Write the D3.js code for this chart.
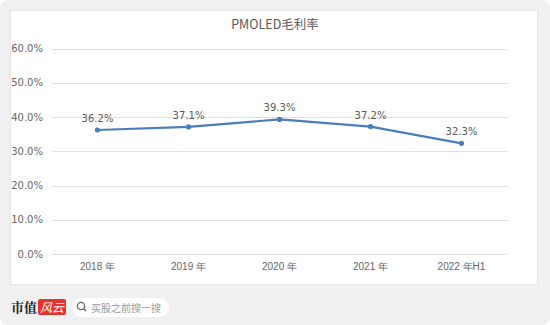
<!DOCTYPE html>
<html><head><meta charset="utf-8">
<script src="https://cdn.jsdelivr.net/npm/d3@7/dist/d3.min.js"></script>
<style>
html,body{margin:0;padding:0;background:#fff;}
svg{display:block;font-family:"Microsoft YaHei","Noto Sans CJK SC","DejaVu Sans",sans-serif;}
</style></head>
<body>
<script>
// Chart data
const categories = ["2018 年", "2019 年", "2020 年", "2021 年", "2022 年H1"];
const margins = [36.2, 37.1, 39.3, 37.2, 32.3];
const yTicks = [0, 10, 20, 30, 40, 50, 60];
const title = "PMOLED毛利率";

const W = 550, H = 325;
const svg = d3.select("body").append("svg").attr("width", W).attr("height", H);

// outer card
svg.append("rect").attr("x", 0).attr("y", 0).attr("width", W).attr("height", H)
  .attr("rx", 8).attr("fill", "#f0f0f0");

// white chart area
svg.append("rect").attr("x", 10.5).attr("y", 10.5).attr("width", 527).attr("height", 274)
  .attr("fill", "#fff").attr("stroke", "#e6e6e6");

const x = d3.scaleBand().domain(categories).range([52, 507]);
const y = d3.scaleLinear().domain([0, 60]).range([254, 48.5]);

// gridlines
svg.append("g").selectAll("line").data(yTicks).join("line")
  .attr("x1", 52).attr("x2", 507)
  .attr("y1", d => Math.round(y(d)) + 0.5).attr("y2", d => Math.round(y(d)) + 0.5)
  .attr("stroke", "#e0e0e0").attr("stroke-width", 1);

// y axis labels
const yAxis = d3.axisLeft(y).tickValues(yTicks).tickSize(0).tickPadding(0)
  .tickFormat(d => d.toFixed(1) + "%");
const gy = svg.append("g").attr("transform", "translate(43,0)").call(yAxis);
gy.select(".domain").remove();
gy.selectAll("text").attr("fill", "#666").style("font-size", "10px")
  .style("font-family", "'DejaVu Sans',sans-serif").attr("font-size", null);

// x axis labels
const xAxis = d3.axisBottom(x).tickSize(0).tickPadding(0);
const gx = svg.append("g").attr("transform", "translate(0,263)").call(xAxis);
gx.select(".domain").remove();
gx.selectAll("text").attr("fill", "#666").style("font-size", "10px").attr("dy", "0.71em");

// title
svg.append("text").attr("x", 275).attr("y", 29).attr("text-anchor", "middle")
  .attr("fill", "#595959").style("font-size", "12.5px").text(title);

// line
const cx = d => x(d) + x.bandwidth() / 2;
const line = d3.line().x((d, i) => cx(categories[i])).y(d => y(d));
svg.append("path").datum(margins).attr("d", line)
  .attr("fill", "none").attr("stroke", "#4a7ebb").attr("stroke-width", 2.2)
  .attr("stroke-linejoin", "round");

svg.append("g").selectAll("circle").data(margins).join("circle")
  .attr("cx", (d, i) => cx(categories[i])).attr("cy", d => y(d)).attr("r", 2.6)
  .attr("fill", "#4a7ebb");

svg.append("g").selectAll("text").data(margins).join("text")
  .attr("x", (d, i) => cx(categories[i])).attr("y", d => y(d) - 8)
  .attr("text-anchor", "middle").attr("fill", "#595959")
  .style("font-size", "10px").style("font-family", "'DejaVu Sans',sans-serif")
  .text(d => d.toFixed(1) + "%");

// faint diagonal watermark
const wm = svg.append("g").attr("fill", "#000").attr("fill-opacity", 0.025)
  .style("font-size", "24px").style("font-weight", "300");
[[110, 75], [330, 75], [160, 200], [390, 210], [480, 140]]
  .forEach(([px, py]) => {
    wm.append("text").attr("transform", `translate(${px},${py}) rotate(-40)`)
      .attr("text-anchor", "middle").style("letter-spacing", "6px").text("市值风云");
  });

// footer brand
svg.append("text").attr("x", 11).attr("y", 312).attr("fill", "#222")
  .style("font-size", "13px").style("font-weight", "bold")
  .style("font-family", "'Noto Serif CJK SC','Noto Sans CJK SC',serif").text("市值");
svg.append("rect").attr("x", 38).attr("y", 299).attr("width", 28).attr("height", 16)
  .attr("rx", 2).attr("fill", "#e8322e");
svg.append("text").attr("x", 52).attr("y", 312).attr("text-anchor", "middle").attr("fill", "#fff")
  .style("font-size", "12px").style("font-style", "italic").text("风云");

// search pill
svg.append("rect").attr("x", 72).attr("y", 298).attr("width", 97).attr("height", 19)
  .attr("rx", 9.5).attr("fill", "#fff");
svg.append("circle").attr("cx", 81).attr("cy", 306).attr("r", 3.6)
  .attr("fill", "none").attr("stroke", "#666").attr("stroke-width", 1.3);
svg.append("line").attr("x1", 83.6).attr("y1", 308.6).attr("x2", 86).attr("y2", 311)
  .attr("stroke", "#666").attr("stroke-width", 1.4);
svg.append("text").attr("x", 91).attr("y", 311.5).attr("fill", "#999")
  .style("font-size", "10px").text("买股之前搜一搜");
</script>
</body></html>
